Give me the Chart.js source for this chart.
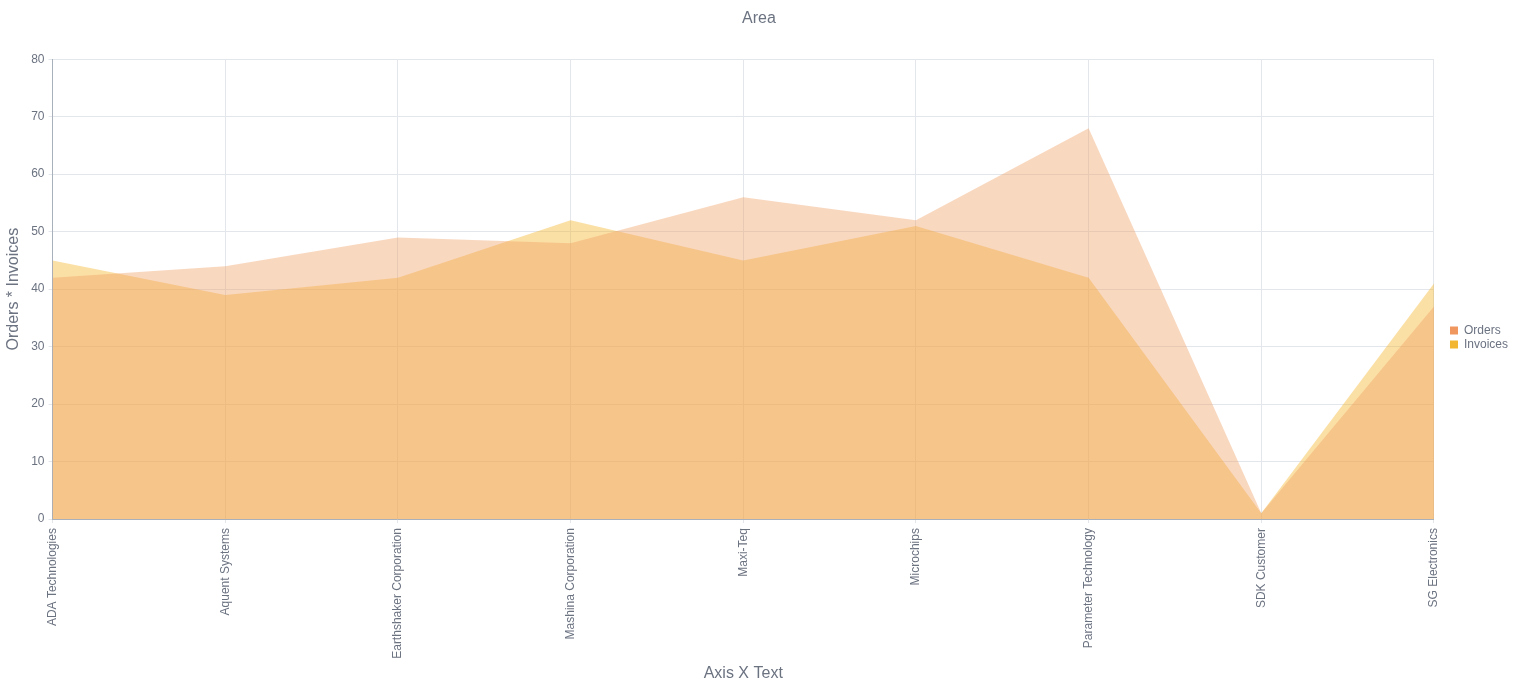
<!DOCTYPE html>
<html>
<head>
<meta charset="utf-8">
<script src="https://cdn.jsdelivr.net/npm/chart.js@4"></script>
<style>
  html, body { margin: 0; padding: 0; background: #fff; }
  #wrap { width: 1526px; height: 690px; position: relative; }
</style>
</head>
<body>
<div id="wrap"><canvas id="areaChart"></canvas></div>
<script>
const customers = ['ADA Technologies', 'Aquent Systems', 'Earthshaker Corporation', 'Mashina Corporation',
  'Maxi-Teq', 'Microchips', 'Parameter Technology', 'SDK Customer', 'SG Electronics'];
const orders = [42, 44, 49, 48, 56, 52, 68, 1, 37];
const invoices = [45, 39, 42, 52, 45, 51, 42, 1, 41];
const yTicks = [0, 10, 20, 30, 40, 50, 60, 70, 80];

const textGray = '#6b7280';
const gridGray = '#e3e6ea';
const LEGEND_GAP = 14;
const LEGEND_LIFT = 8;

Chart.defaults.font.family = '"Liberation Sans", Arial, sans-serif';
Chart.defaults.color = textGray;

// push the legend a bit away from the plot area (and up a little)
const legendGap = {
  id: 'legendGap',
  afterInit(chart) {
    const lg = chart.legend;
    if (!lg) return;
    const fit = lg.fit, draw = lg.draw;
    lg.fit = function () { fit.call(this); this.width += LEGEND_GAP; };
    lg.draw = function () {
      this.ctx.save();
      this.ctx.translate(LEGEND_GAP, -LEGEND_LIFT);
      draw.call(this);
      this.ctx.restore();
    };
  }
};

const ctx = document.getElementById('areaChart').getContext('2d');
new Chart(ctx, {
  type: 'line',
  data: {
    labels: customers,
    datasets: [
      {
        label: 'Orders',
        data: orders,
        fill: 'origin',
        backgroundColor: 'rgba(240, 158, 98, 0.4)',
        borderColor: 'rgba(240, 158, 98, 0)',
        borderWidth: 0,
        pointRadius: 0,
        tension: 0
      },
      {
        label: 'Invoices',
        data: invoices,
        fill: 'origin',
        backgroundColor: 'rgba(245, 178, 33, 0.4)',
        borderColor: 'rgba(245, 178, 33, 0)',
        borderWidth: 0,
        pointRadius: 0,
        tension: 0
      }
    ]
  },
  plugins: [legendGap],
  options: {
    responsive: true,
    maintainAspectRatio: false,
    animation: false,
    layout: { padding: { top: 1, right: 8, left: 0, bottom: 0 } },
    plugins: {
      title: {
        display: true,
        text: 'Area',
        font: { size: 16, weight: 'normal' },
        color: textGray,
        padding: { top: 8, bottom: 31 }
      },
      legend: {
        position: 'right',
        labels: {
          boxWidth: 8,
          boxHeight: 8,
          padding: 2,
          font: { size: 12 },
          color: textGray,
          generateLabels: function (chart) {
            const solid = ['#f0975f', '#f3b632'];
            return chart.data.datasets.map((ds, i) => ({
              text: ds.label,
              fillStyle: solid[i],
              strokeStyle: solid[i],
              lineWidth: 0,
              hidden: !chart.isDatasetVisible(i),
              datasetIndex: i,
              fontColor: textGray
            }));
          }
        }
      },
      tooltip: { enabled: false }
    },
    scales: {
      x: {
        offset: false,
        grid: { color: gridGray, tickLength: 4 },
        border: { color: '#a8b0bb' },
        ticks: {
          minRotation: 90,
          maxRotation: 90,
          autoSkip: false,
          padding: 5,
          font: { size: 12 },
          color: textGray
        },
        title: {
          display: true,
          text: 'Axis X Text',
          font: { size: 16 },
          color: textGray,
          padding: { top: 0, bottom: 7 }
        }
      },
      y: {
        min: 0,
        max: 80,
        afterBuildTicks: (axis) => { axis.ticks = yTicks.map(v => ({ value: v })); },
        grid: { color: gridGray, tickLength: 4 },
        border: { color: '#a8b0bb' },
        ticks: { font: { size: 12 }, color: textGray, padding: 4 },
        title: {
          display: true,
          text: 'Orders * Invoices',
          font: { size: 16 },
          color: textGray,
          padding: { top: 4, bottom: 4 }
        }
      }
    }
  }
});
</script>
</body>
</html>
